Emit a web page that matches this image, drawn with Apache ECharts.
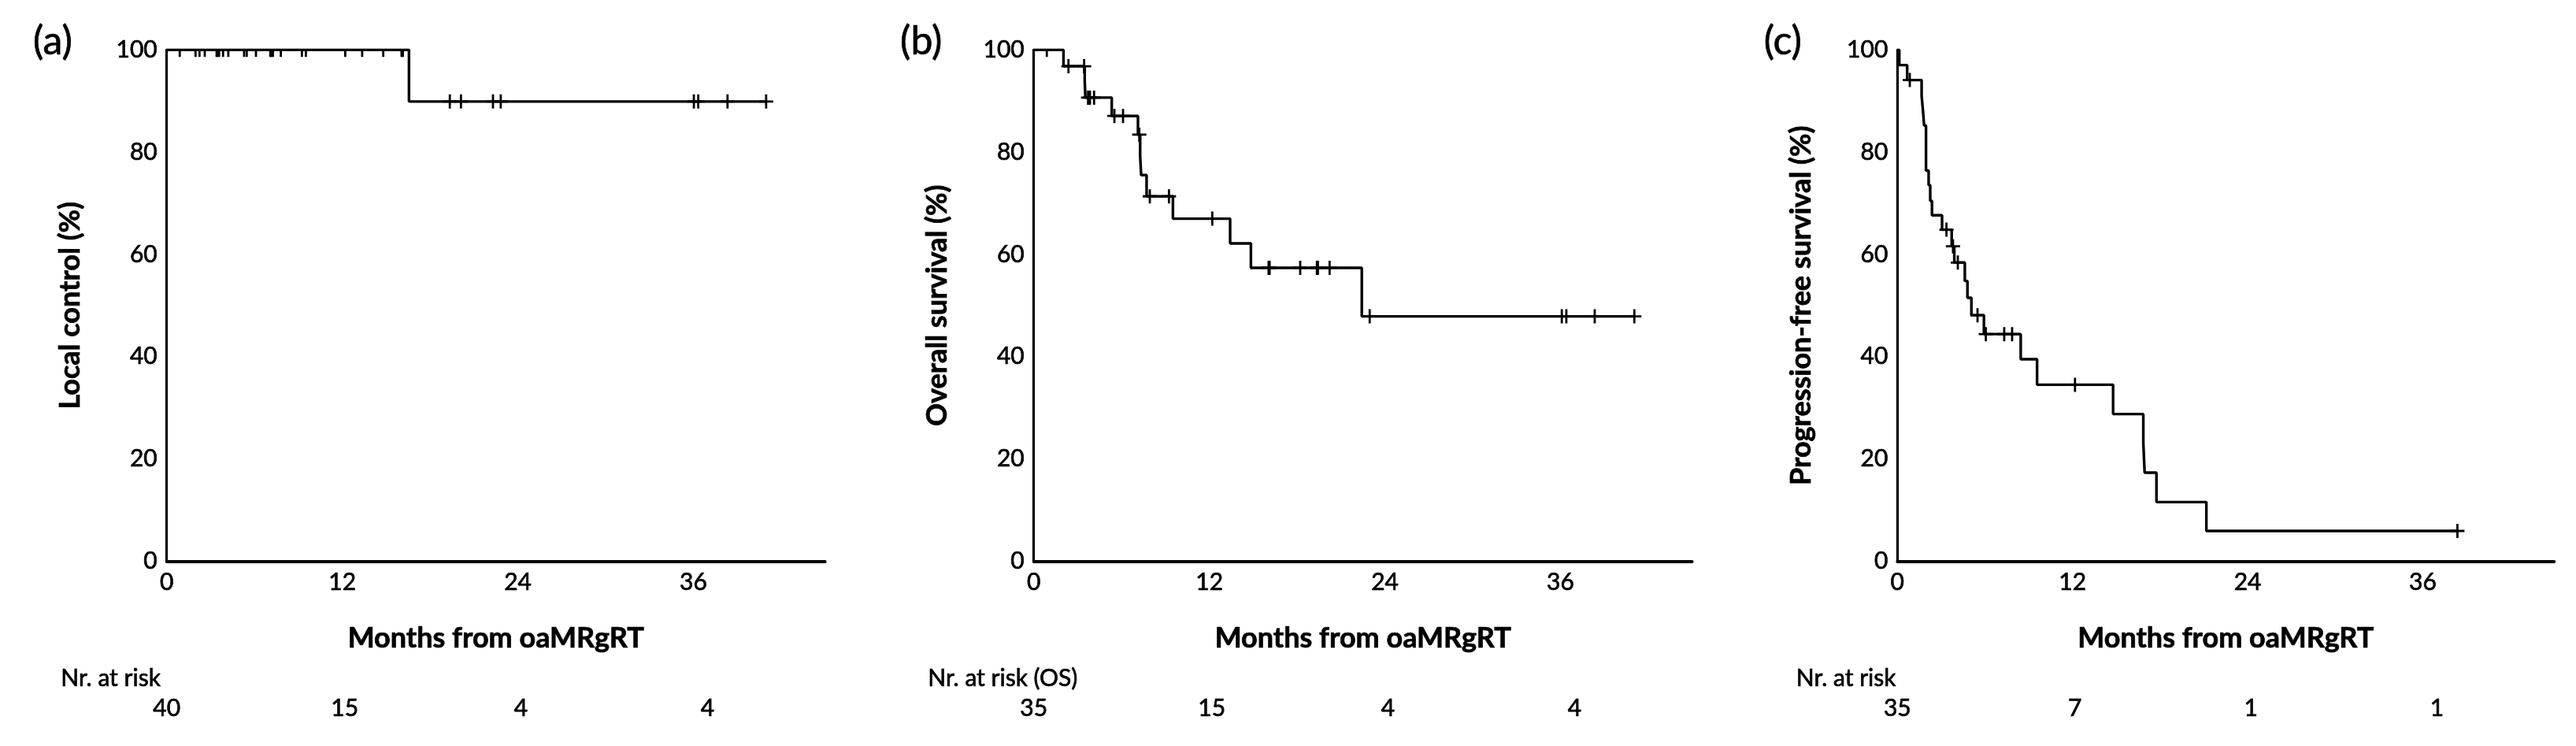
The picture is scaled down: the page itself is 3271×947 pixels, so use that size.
<!DOCTYPE html>
<html><head><meta charset="utf-8">
<script src="https://cdn.jsdelivr.net/npm/echarts@6/dist/echarts.min.js"></script>
<style>html,body{margin:0;padding:0;background:#fff;}#c{width:3271px;height:947px;}</style>
</head><body><div id="c"></div>
<script>
// ---------- data ----------
const xTickLabels = [0, 12, 24, 36];
const yTickLabels = [0, 20, 40, 60, 80, 100];
const riskTimes = [0, 12, 24, 36];

// (a) Local control
const lcTimes = [0, 16.56, 40.97];
const lcSurv  = [100, 89.9, 89.9];
const lcCensor = [0.89, 1.97, 2.24, 2.60, 3.41, 3.50, 3.58, 3.85, 4.21, 5.29, 5.47, 6.10, 7.08, 7.17, 7.26, 7.80,
  9.24, 9.51, 12.20, 13.36, 14.80, 16.05, 16.14, 19.35, 20.11, 22.30, 22.83, 36.03, 36.33, 38.33, 40.97];
const lcRisk = [40, 15, 4, 4];

// (b) Overall survival
const osTimes = [0, 2.03, 3.48, 3.53, 5.33, 7.12, 7.27, 7.34, 7.71, 9.51, 13.42, 14.84, 22.42, 41.05];
const osSurv  = [100, 96.8, 93.85, 90.66, 87.07, 83.42, 79.2, 75.5, 71.35, 66.98, 62.15, 57.37, 47.87, 47.87];
const osCensor = [0.89, 2.37, 3.44, 3.71, 3.84, 4.12, 5.51, 6.10, 7.21, 7.93, 9.24, 12.20, 16.05, 16.12,
  18.21, 19.35, 19.42, 20.22, 22.96, 36.09, 36.40, 38.34, 41.05];
const osRisk = [35, 15, 4, 4];

// (c) Progression-free survival
const pfsTimes = [0, 0.13, 0.67, 1.66, 1.75, 1.83, 1.96, 2.14, 2.25, 2.37, 3.06, 3.72, 3.90, 4.62, 4.80, 5.07,
  5.93, 8.45, 9.57, 14.78, 16.85, 16.94, 17.75, 21.17, 38.37];
const pfsSurv  = [100, 97.03, 94.1, 91.02, 88.2, 85.2, 76.4, 73.55, 70.47, 67.65, 64.82, 61.58, 58.4, 54.8, 51.5, 48.1,
  44.4, 39.5, 34.5, 28.76, 23.1, 17.3, 11.55, 5.9, 5.9];
const pfsCensor = [0.85, 3.36, 3.81, 4.14, 5.49, 6.06, 7.32, 7.86, 12.17, 38.37];
const pfsRisk = [35, 7, 1, 1];

// ---------- layout / style ----------
const FONT = 'Lato';
const TB = {textBorderColor: '#000', textBorderWidth: 0.7};
const panels = [
  {left: 211.7, width: 836, tag: '(a)', yName: 'Local control (%)', riskTitle: 'Nr. at risk', riskTitleDx: -134.5,
   times: lcTimes, surv: lcSurv, censor: lcCensor, risk: lcRisk},
  {left: 1312.7, width: 836, tag: '(b)', yName: 'Overall survival (%)', riskTitle: 'Nr. at risk (OS)', riskTitleDx: -134.5,
   times: osTimes, surv: osSurv, censor: osCensor, risk: osRisk},
  {left: 2409.3, width: 834, tag: '(c)', yName: 'Progression-free survival (%)', riskTitle: 'Nr. at risk', riskTitleDx: -128.5,
   times: pfsTimes, surv: pfsSurv, censor: pfsCensor, risk: pfsRisk}
];
const gridTop = 63.3, gridHeight = 649;
const riskLabelDx = [0, 3, 4, 18];

function levelAt(times, surv, t) {
  let v = surv[0];
  for (let i = 0; i < times.length; i++) { if (times[i] <= t) v = surv[i]; }
  return v;
}

function renderCensor(params, api) {
  const p = api.coord([api.value(0), api.value(1)]);
  const s = 9;
  const st = {stroke: '#000', lineWidth: 2.8};
  return {type: 'group', children: [
    {type: 'line', shape: {x1: p[0] - s, y1: p[1], x2: p[0] + s, y2: p[1]}, style: st},
    {type: 'line', shape: {x1: p[0], y1: p[1] - s, x2: p[0], y2: p[1] + s}, style: st}
  ]};
}

const grid = [], xAxis = [], yAxis = [], series = [];
panels.forEach((p, i) => {
  grid.push({left: p.left, top: gridTop, width: p.width, height: gridHeight, containLabel: false});
  xAxis.push({
    type: 'value', gridIndex: i, min: 0, max: 45, interval: 12,
    axisLine: {show: true, lineStyle: {color: '#000', width: 3.8}},
    axisTick: {show: false}, splitLine: {show: false},
    axisLabel: Object.assign({fontFamily: FONT, fontSize: 30, color: '#000', margin: 12, showMaxLabel: false, showMinLabel: true,
      formatter: v => (xTickLabels.indexOf(v) >= 0 ? String(v) : '')}, TB),
    name: 'Months from oaMRgRT', nameLocation: 'middle', nameGap: 80,
    nameTextStyle: Object.assign({fontFamily: FONT, fontSize: 36, fontWeight: 'bold', color: '#000'}, TB)
  });
  yAxis.push({
    type: 'value', gridIndex: i, min: 0, max: 100, interval: 20,
    axisLine: {show: true, lineStyle: {color: '#000', width: 3.2}},
    axisTick: {show: false}, splitLine: {show: false},
    axisLabel: Object.assign({fontFamily: FONT, fontSize: 30, color: '#000', margin: 12, showMinLabel: true, showMaxLabel: true,
      formatter: v => (yTickLabels.indexOf(v) >= 0 ? String(v) : '')}, TB),
    name: p.yName, nameLocation: 'middle', nameRotate: 90, nameGap: 104,
    nameTextStyle: Object.assign({fontFamily: FONT, fontSize: 36, fontWeight: 'bold', color: '#000'}, TB)
  });
  series.push({
    type: 'line', xAxisIndex: i, yAxisIndex: i, step: 'end', symbol: 'none', animation: false,
    lineStyle: {color: '#000', width: 3.4},
    data: p.times.map((t, k) => [t, p.surv[k]])
  });
  series.push({
    type: 'custom', xAxisIndex: i, yAxisIndex: i, clip: true, animation: false,
    renderItem: renderCensor, encode: {x: 0, y: 1},
    data: p.censor.map(t => [t, levelAt(p.times, p.surv, t)])
  });
});

const chart = echarts.init(document.getElementById('c'), null, {renderer: 'canvas'});
chart.setOption({
  animation: false, backgroundColor: '#fff',
  textStyle: {fontFamily: FONT},
  grid, xAxis, yAxis, series
});

const graphics = [];
const txt = (text, size, extra) => Object.assign({text, font: size + 'px ' + FONT, fill: '#000', stroke: '#000', lineWidth: 0.7}, extra || {});
panels.forEach((p, i) => {
  graphics.push({type: 'text', left: p.left - 170, top: 28, style: txt(p.tag, 50)});
  graphics.push({type: 'text', x: p.left + p.riskTitleDx, y: 861,
    style: txt(p.riskTitle, 30, {textAlign: 'left', textVerticalAlign: 'middle'})});
  riskTimes.forEach((t, k) => {
    const px = chart.convertToPixel({gridIndex: i}, [t, 0]);
    graphics.push({type: 'text', x: px[0] + riskLabelDx[k], y: 899,
      style: txt(String(p.risk[k]), 30, {textAlign: 'center', textVerticalAlign: 'middle'})});
  });
});
chart.setOption({graphic: graphics});
</script></body></html>
